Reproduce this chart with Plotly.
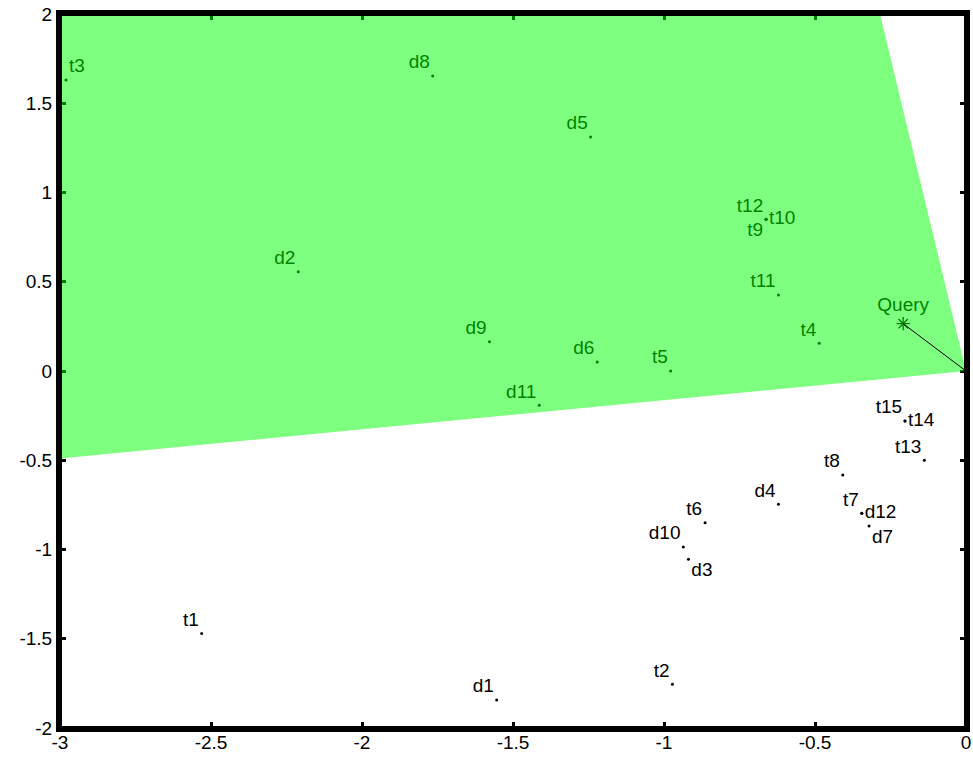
import plotly.graph_objects as go

# ---- data ----
labels = ["t1", "t2", "t3", "t4", "t5", "t6", "t7", "t8", "t9", "t10",
          "t11", "t12", "t13", "t14", "t15",
          "d1", "d2", "d3", "d4", "d5", "d6", "d7", "d8", "d9", "d10",
          "d11", "d12"]
x_vals = [-2.531, -0.972, -2.980, -0.486, -0.978, -0.864, -0.345, -0.408, -0.662, -0.662,
          -0.621, -0.662, -0.138, -0.202, -0.202,
          -1.554, -2.211, -0.919, -0.621, -1.243, -1.221, -0.321, -1.766, -1.578, -0.936,
          -1.413, -0.345]
y_vals = [-1.470, -1.755, 1.630, 0.155, 0.000, -0.850, -0.797, -0.583, 0.850, 0.850,
          0.426, 0.850, -0.500, -0.280, -0.280,
          -1.843, 0.556, -1.055, -0.747, 1.311, 0.050, -0.868, 1.653, 0.164, -0.986,
          -0.192, -0.797]
label_pos = ["top left", "top left", "top right", "top left", "top left", "top left", "top left",
             "top left", "bottom left", "middle right",
             "top left", "top left", "top left", "middle right", "top left",
             "top left", "top left", "bottom right", "top left", "top left", "top left",
             "bottom right", "top left", "top left", "top left",
             "top left", "middle right"]

query_label = "Query"
query_x = [-0.208]
query_y = [0.265]
origin_x = [0.0]
origin_y = [0.0]

cone_x = [0.0, -0.285, -3.0, -3.0]
cone_y = [0.0, 2.0, 2.0, -0.49]

x_ticks = [-3, -2.5, -2, -1.5, -1, -0.5, 0]
x_tick_text = ["-3", "-2.5", "-2", "-1.5", "-1", "-0.5", "0"]
y_ticks = [-2, -1.5, -1, -0.5, 0, 0.5, 1, 1.5, 2]
y_tick_text = ["-2", "-1.5", "-1", "-0.5", "0", "0.5", "1", "1.5", "2"]

FONT = "Liberation Sans, Arial, sans-serif"
FS = 19

fig = go.Figure()

# points and labels (drawn first so the translucent cone tints them)
fig.add_trace(go.Scatter(
    x=x_vals, y=y_vals, mode="markers+text", text=labels,
    textposition=label_pos,
    marker=dict(color="black", size=3),
    textfont=dict(color="black", size=FS, family=FONT),
    cliponaxis=False, showlegend=False, hoverinfo="text"))

# query star
fig.add_trace(go.Scatter(
    x=query_x, y=query_y, mode="markers+text", text=[query_label],
    textposition="top center",
    marker=dict(symbol="asterisk-open", size=11, color="black",
                line=dict(color="black", width=1.3)),
    textfont=dict(color="black", size=FS, family=FONT),
    cliponaxis=False, showlegend=False))

# translucent green cone
fig.add_trace(go.Scatter(
    x=cone_x + [cone_x[0]], y=cone_y + [cone_y[0]], mode="lines",
    fill="toself", fillcolor="rgba(0,255,0,0.5)",
    line=dict(width=0, color="rgba(0,0,0,0)"),
    showlegend=False, hoverinfo="skip"))

# line from query to origin
fig.add_trace(go.Scatter(
    x=query_x + origin_x, y=query_y + origin_y, mode="lines",
    line=dict(color="black", width=1),
    showlegend=False, hoverinfo="skip"))

axis_common = dict(
    showgrid=False, zeroline=False, showline=True, linecolor="black", linewidth=4,
    ticks="inside", ticklen=6, tickwidth=3, tickcolor="black",
    mirror="allticks", layer="below traces", automargin=False,
    tickfont=dict(size=FS, color="black", family=FONT),
)

fig.update_layout(
    width=973, height=757,
    margin=dict(l=60, r=7, t=14, b=29, autoexpand=False),
    paper_bgcolor="white", plot_bgcolor="white",
    font=dict(family=FONT, size=FS, color="black"),
    xaxis=dict(range=[-3, 0], tickvals=x_ticks, ticktext=x_tick_text,
               ticklabelstandoff=-6, **axis_common),
    yaxis=dict(range=[-2, 2], tickvals=y_ticks, ticktext=y_tick_text, **axis_common),
    shapes=[dict(type="rect", xref="paper", yref="paper", x0=0, y0=0, x1=1, y1=1,
                 line=dict(color="black", width=4), layer="above")],
)

fig.write_html("out.html")
